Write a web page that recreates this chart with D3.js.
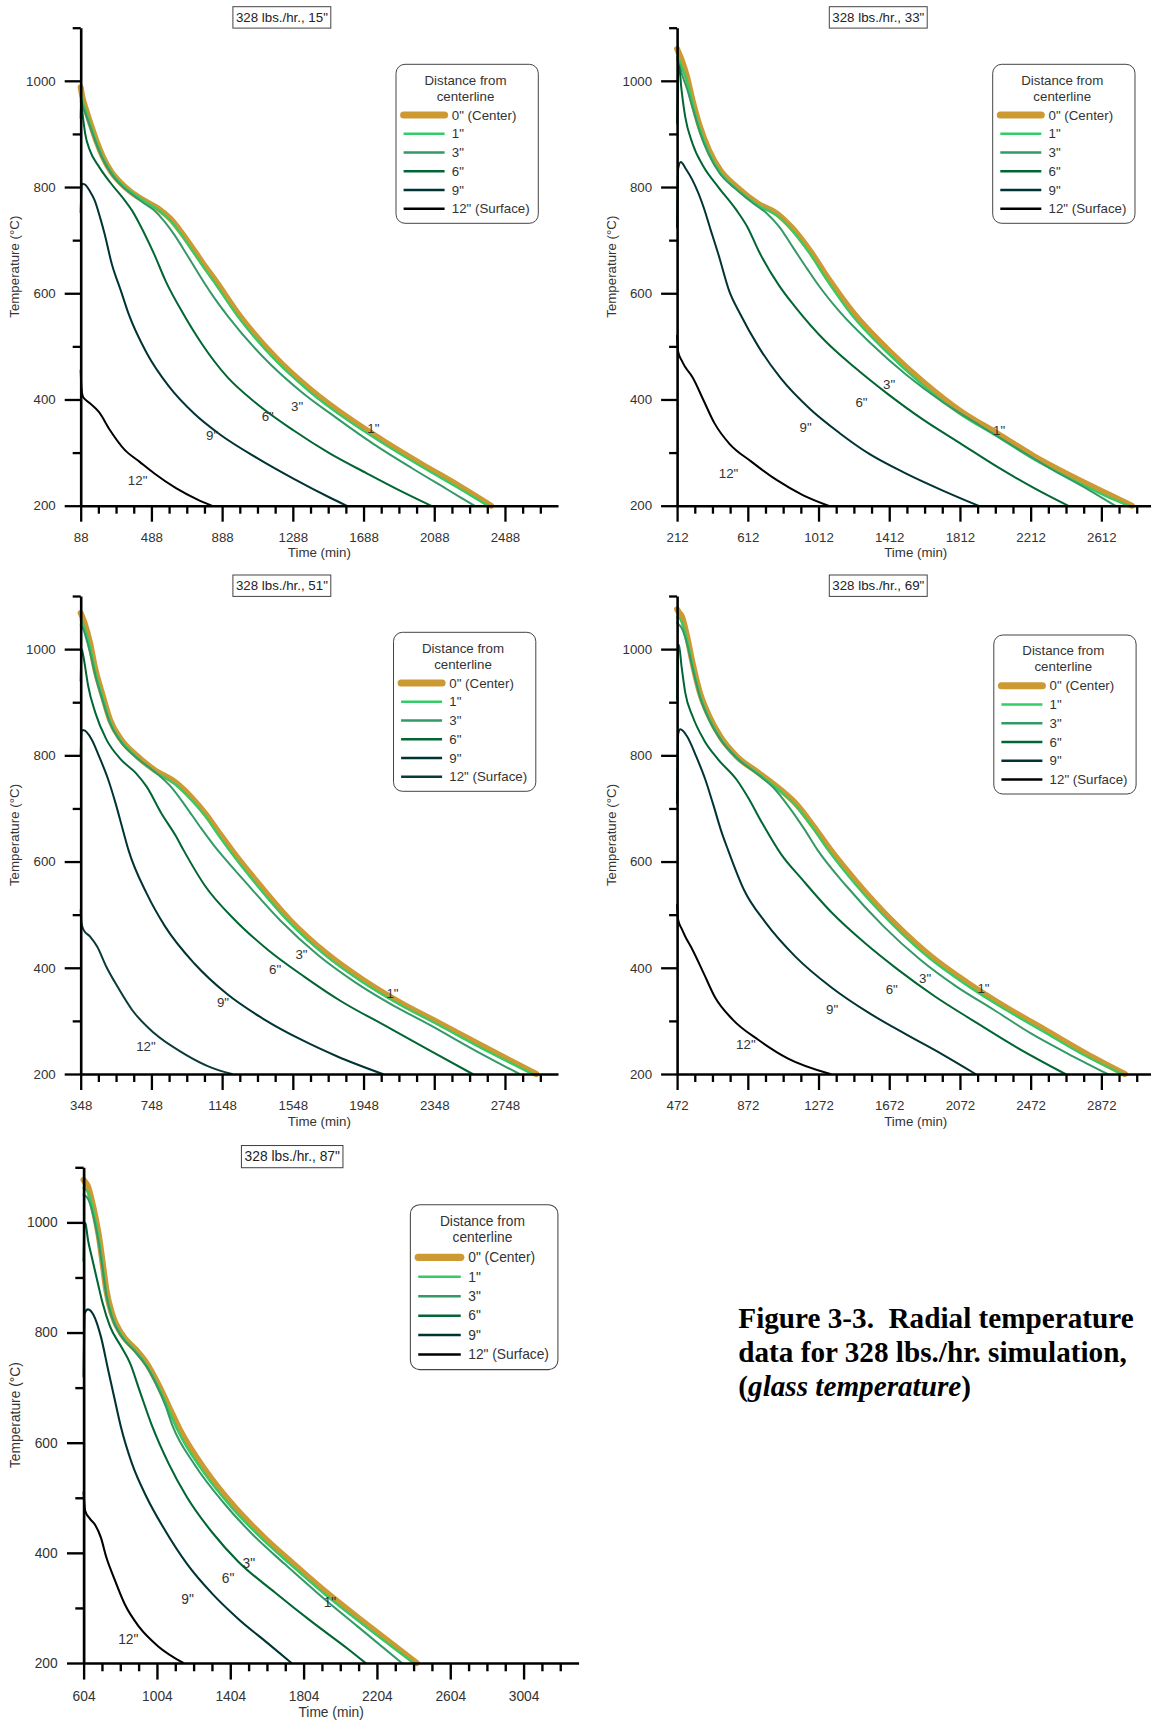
<!DOCTYPE html>
<html>
<head>
<meta charset="utf-8">
<script src="https://cdn.jsdelivr.net/npm/d3@7"></script>
<style>
  body { margin: 0; background: #fff; }
  svg { display: block; font-family: "Liberation Sans", Arial, sans-serif; }
</style>
</head>
<body>
<svg id="fig" width="1151" height="1720"></svg>
<script>
// ---------------- data ----------------
const panelTitles = ['328 lbs./hr., 15"', '328 lbs./hr., 33"', '328 lbs./hr., 51"', '328 lbs./hr., 69"', '328 lbs./hr., 87"'];
const timeStarts = [88, 212, 348, 472, 604];   // first labelled time tick of each run (min)
const timeSpan = 2700;                          // minutes shown on every time axis
const tempRange = [200, 1100];
const tempMajorTicks = [200, 400, 600, 800, 1000];
const tempMinorTicks = [300, 500, 700, 900, 1100];
const seriesNames = ['0" (Center)', '1"', '3"', '6"', '9"', '12" (Surface)'];
const curveTags = ['1"', '3"', '6"', '9"', '12"'];
const legendHeading = ['Distance from', 'centerline'];
const xAxisTitle = 'Time (min)';
const yAxisTitle = 'Temperature (°C)';

// [time (min), temperature (°C)] — run at 15"
const r15_0in = [[88,988],[96,972],[120,944],[150,913],[180,884],[212,858],[260,829],[320,806],[368,792],[450,774],[524,760],[596,740],[659,714],[731,680],[793,650],[850,624],[980,561],[1188,480],[1395,417],[1603,365],[1810,320],[2018,278],[2225,238],[2410,200]];
const r15_1in = [[88,975],[100,960],[130,930],[160,900],[190,873],[220,851],[270,824],[330,802],[380,789],[460,771],[530,756],[600,735],[660,709],[730,675],[790,646],[845,620],[975,557],[1180,477],[1385,414],[1593,362],[1800,317],[2008,275],[2215,235],[2392,200]];
const r15_3in = [[88,962],[100,952],[130,924],[160,896],[190,870],[220,848],[270,821],[330,799],[380,786],[440,771],[500,757],[560,736],[620,709],[690,672],[760,634],[830,598],[920,557],[1120,480],[1330,416],[1540,364],[1750,315],[1960,271],[2160,231],[2315,200]];
const r15_6in = [[88,930],[91,966],[98,940],[113,901],[140,869],[192,838],[254,809],[337,775],[378,756],[420,731],[503,674],[570,622],[669,561],[773,505],[918,442],[1084,392],[1291,342],[1499,298],[1706,261],[1914,225],[2069,200]];
const r15_9in = [[88,752],[94,806],[110,805],[140,792],[167,775],[200,740],[223,712],[264,655],[316,604],[358,562],[462,487],[586,425],[731,373],[876,334],[1084,290],[1291,251],[1499,215],[1592,200]];
const r15_12in = [[88,455],[92,422],[100,406],[113,400],[140,393],[192,376],[254,342],[337,305],[420,283],[503,261],[627,233],[752,211],[829,200]];
const r15_tags = [[1744,345],[1312,387],[1146,368],[831,333],[410,248]];

// run at 33"
const r33_0in = [[212,1060],[222,1052],[237,1040],[268,1008],[299,964],[341,914],[393,869],[455,832],[549,800],[673,768],[777,750],[860,724],[964,680],[1075,624],[1214,561],[1401,495],[1608,432],[1816,378],[2024,336],[2232,293],[2440,256],[2648,222],[2785,200]];
const r33_1in = [[212,1045],[225,1038],[240,1025],[268,1000],[299,958],[341,909],[393,864],[455,828],[549,796],[673,765],[777,746],[860,719],[964,674],[1065,622],[1205,557],[1392,491],[1598,428],[1806,374],[2014,332],[2222,289],[2430,252],[2638,218],[2768,200]];
const r33_3in = [[212,1040],[225,1030],[240,1012],[268,985],[299,950],[341,903],[393,860],[455,825],[549,795],[640,770],[720,750],[790,725],[870,685],[950,645],[1010,616],[1140,562],[1310,505],[1510,446],[1715,395],[1925,351],[2130,309],[2340,267],[2545,229],[2690,200]];
const r33_6in = [[212,920],[216,1000],[222,1030],[237,983],[258,932],[299,882],[362,838],[445,800],[549,756],[611,724],[673,680],[790,614],[881,574],[1047,511],[1214,461],[1401,411],[1608,361],[1816,317],[2024,273],[2232,233],[2423,200]];
const r33_9in = [[212,724],[218,835],[233,847],[260,835],[299,813],[362,762],[403,718],[445,674],[507,604],[569,561],[673,499],[798,440],[964,382],[1130,337],[1297,298],[1505,261],[1712,229],[1916,200]];
const r33_12in = [[212,520],[218,490],[237,474],[258,461],[299,442],[362,398],[424,355],[507,317],[632,283],[777,248],[923,220],[1068,200]];
const r33_tags = [[2034,341],[1411,428],[1255,395],[939,348],[503,261]];

// run at 51"
const r51_0in = [[348,1068],[358,1060],[369,1050],[400,1013],[431,962],[473,912],[514,867],[576,830],[659,801],[763,773],[888,748],[971,722],[1054,690],[1140,650],[1215,616],[1360,556],[1531,490],[1738,427],[1946,377],[2153,335],[2382,295],[2631,251],[2925,200]];
const r51_1in = [[348,1055],[358,1050],[369,1040],[400,1005],[431,957],[473,908],[514,863],[576,827],[659,798],[763,770],[888,744],[971,717],[1054,685],[1135,646],[1205,614],[1350,553],[1520,488],[1725,425],[1932,375],[2140,333],[2368,293],[2612,249],[2905,200]];
const r51_3in = [[348,1045],[360,1040],[375,1025],[400,995],[431,950],[473,902],[514,860],[576,825],[659,797],[763,770],[860,740],[940,705],[1020,667],[1100,631],[1160,607],[1305,552],[1480,488],[1690,424],[1895,374],[2100,332],[2325,292],[2570,246],[2830,200]];
const r51_6in = [[348,940],[353,1000],[360,992],[369,975],[390,931],[431,880],[493,830],[576,792],[659,767],[721,741],[804,691],[888,647],[929,622],[1054,553],[1220,490],[1406,434],[1614,383],[1821,337],[2070,291],[2319,245],[2565,200]];
const r51_9in = [[348,800],[353,847],[365,847],[410,830],[452,798],[504,754],[545,710],[587,659],[618,622],[721,540],[825,478],[991,408],[1178,350],[1385,303],[1593,265],[1800,233],[2056,200]];
const r51_12in = [[348,509],[352,485],[365,471],[400,459],[441,440],[493,402],[555,365],[638,321],[763,277],[929,239],[1095,211],[1203,200]];
const r51_tags = [[2112,351],[1597,426],[1448,397],[1153,334],[717,253]];

// run at 69"
const r69_0in = [[472,1075],[485,1068],[497,1063],[528,1025],[559,975],[601,918],[653,874],[715,836],[809,798],[933,767],[1058,735],[1141,710],[1245,666],[1340,622],[1494,559],[1702,484],[1910,421],[2118,371],[2325,327],[2554,283],[2783,239],[3005,200]];
const r69_1in = [[472,1060],[485,1058],[497,1052],[528,1018],[559,970],[601,914],[653,870],[715,833],[809,796],[933,765],[1058,732],[1141,706],[1245,661],[1330,620],[1480,557],[1688,482],[1895,419],[2102,369],[2310,325],[2538,281],[2765,237],[2990,200]];
const r69_3in = [[472,1050],[485,1045],[497,1040],[528,1010],[559,965],[601,910],[653,867],[715,831],[809,795],[933,763],[1020,738],[1100,705],[1190,662],[1266,622],[1432,553],[1640,478],[1848,415],[2055,364],[2263,321],[2471,277],[2679,239],[2907,200]];
const r69_6in = [[472,905],[476,990],[482,1008],[497,968],[518,918],[559,874],[622,830],[705,792],[809,754],[871,722],[954,672],[1060,614],[1183,565],[1349,503],[1536,446],[1723,396],[1931,346],[2139,302],[2388,251],[2668,200]];
const r69_9in = [[472,710],[478,840],[490,849],[528,836],[580,798],[632,754],[674,710],[726,653],[760,622],[850,547],[975,484],[1141,421],[1349,362],[1557,315],[1765,275],[1972,237],[2160,200]];
const r69_12in = [[472,518],[478,490],[497,474],[518,459],[559,434],[622,390],[684,346],[788,302],[933,264],[1100,229],[1339,200]];
const r69_tags = [[2205,361],[1875,380],[1686,359],[1349,321],[861,256]];

// run at 87"
const r87_0in = [[604,1077],[615,1072],[628,1065],[648,1040],[668,1010],[688,974],[708,926],[728,877],[758,835],[808,799],[888,769],[948,744],[1008,708],[1068,666],[1125,626],[1268,550],[1428,483],[1588,428],[1748,380],[1928,328],[2148,270],[2420,200]];
const r87_1in = [[604,1062],[615,1060],[628,1055],[648,1034],[668,1004],[688,968],[708,920],[728,872],[758,831],[808,796],[888,766],[948,740],[1008,704],[1068,661],[1115,624],[1255,548],[1415,481],[1575,426],[1735,378],[1915,326],[2135,268],[2405,200]];
const r87_3in = [[604,1050],[615,1048],[628,1043],[648,1024],[668,995],[688,960],[708,915],[728,868],[758,828],[808,794],[888,764],[948,738],[1000,706],[1050,668],[1090,630],[1210,560],[1370,490],[1530,432],[1700,380],[1890,324],[2100,266],[2340,200]];
const r87_6in = [[604,930],[608,1000],[614,998],[628,968],[648,938],[678,895],[708,853],[748,811],[808,775],[858,744],[908,696],[978,630],[1068,562],[1168,501],[1308,436],[1448,384],[1648,328],[1848,275],[2048,225],[2142,200]];
const r87_9in = [[604,720],[610,835],[628,842],[658,832],[698,793],[738,732],[778,672],[808,628],[868,562],[948,501],[1048,441],[1168,380],[1308,325],[1448,280],[1608,236],[1738,200]];
const r87_12in = [[604,510],[612,477],[638,462],[668,450],[698,428],[728,392],[768,356],[828,307],[908,265],[1008,231],[1148,200]];
const r87_tags = [[1948,310],[1505,382],[1392,354],[1171,316],[848,244]];

const seriesColors = ['#CC9933', '#33CC66', '#339966', '#006633', '#003333', '#000000'];
const seriesWidths = [6, 2.2, 2, 2, 2, 2];

const captionLines = ['Figure 3-3.  Radial temperature', 'data for 328 lbs./hr. simulation,'];
const captionLast = ['(', 'glass temperature', ')'];

// table of runs built from the arrays above
const runs = [
  { title: panelTitles[0], t0: timeStarts[0], series: [r15_0in, r15_1in, r15_3in, r15_6in, r15_9in, r15_12in], tags: r15_tags },
  { title: panelTitles[1], t0: timeStarts[1], series: [r33_0in, r33_1in, r33_3in, r33_6in, r33_9in, r33_12in], tags: r33_tags },
  { title: panelTitles[2], t0: timeStarts[2], series: [r51_0in, r51_1in, r51_3in, r51_6in, r51_9in, r51_12in], tags: r51_tags },
  { title: panelTitles[3], t0: timeStarts[3], series: [r69_0in, r69_1in, r69_3in, r69_6in, r69_9in, r69_12in], tags: r69_tags },
  { title: panelTitles[4], t0: timeStarts[4], series: [r87_0in, r87_1in, r87_3in, r87_6in, r87_9in, r87_12in], tags: r87_tags }
];

// ---------------- layout ----------------
const W = 477.3, H = 478;
const frames = [
  { x: 80.7,  y: 27.7,   k: 1,     legend: [315.3, 36.6] },
  { x: 677.1, y: 27.7,   k: 1,     legend: [315.6, 36.6] },
  { x: 80.7,  y: 596,    k: 1,     legend: [312.8, 36.3] },
  { x: 677.1, y: 596,    k: 1,     legend: [316.7, 39.0] },
  { x: 83.6,  y: 1167.3, k: 1.037, legend: [315.1, 36.1] }
];
const surfaceColor = ['#000000', '#000000', '#0b3a3a', '#000000', '#000000'];
const FS = 13.3;
const textGrey = '#333';

const svg = d3.select('#fig');

runs.forEach((run, i) => {
  const f = frames[i];
  const g = svg.append('g').attr('transform', `translate(${f.x},${f.y}) scale(${f.k})`);
  const x = d3.scaleLinear().domain([run.t0, run.t0 + timeSpan]).range([0, W]);
  const y = d3.scaleLinear().domain(tempRange).range([H, 0]);
  const colors = seriesColors.slice();
  colors[5] = surfaceColor[i];

  // curves: centre first, the others on top
  const line = d3.line().x(d => x(d[0])).y(d => y(d[1])).curve(d3.curveMonotoneX);
  run.series.forEach((pts, s) => {
    g.append('path')
      .attr('d', line(pts))
      .attr('fill', 'none')
      .attr('stroke', colors[s])
      .attr('stroke-width', seriesWidths[s])
      .attr('stroke-linecap', 'round')
      .attr('stroke-linejoin', 'round');
  });

  // inline curve tags
  g.append('g').selectAll('text').data(run.tags).join('text')
    .attr('x', d => x(d[0]))
    .attr('y', d => y(d[1]))
    .attr('dy', '0.35em')
    .attr('text-anchor', 'middle')
    .attr('font-size', FS)
    .attr('fill', textGrey)
    .text((d, j) => curveTags[j]);

  // time axis
  const majorT = d3.range(run.t0, run.t0 + timeSpan, 400);
  const minorT = d3.range(run.t0 + 100, run.t0 + timeSpan - 50, 100).filter(v => (v - run.t0) % 400 !== 0);
  const gxMinor = g.append('g').attr('transform', `translate(0,${H})`)
    .call(d3.axisBottom(x).tickValues(minorT).tickSize(8).tickSizeOuter(0).tickFormat(''));
  const gx = g.append('g').attr('transform', `translate(0,${H})`)
    .call(d3.axisBottom(x).tickValues(majorT).tickSize(16).tickSizeOuter(0).tickPadding(11).tickFormat(d3.format('d')));

  // temperature axis
  const gyMinor = g.append('g')
    .call(d3.axisLeft(y).tickValues(tempMinorTicks).tickSize(8).tickSizeOuter(0).tickFormat(''));
  const gy = g.append('g')
    .call(d3.axisLeft(y).tickValues(tempMajorTicks).tickSize(16).tickSizeOuter(0).tickPadding(9).tickFormat(d3.format('d')));

  [gxMinor, gx, gyMinor, gy].forEach(a => {
    a.select('.domain').attr('stroke', '#000').attr('stroke-width', 2.6);
    a.selectAll('.tick line').attr('stroke', '#000').attr('stroke-width', 2.3);
    a.selectAll('.tick text').attr('font-size', FS).attr('fill', textGrey)
      .attr('font-family', '"Liberation Sans", Arial, sans-serif');
  });
  gxMinor.select('.domain').remove();
  gyMinor.select('.domain').remove();

  // axis titles
  g.append('text')
    .attr('x', W / 2).attr('y', H + 47).attr('dy', '0.35em')
    .attr('text-anchor', 'middle').attr('font-size', FS).attr('fill', textGrey)
    .text(xAxisTitle);
  g.append('text')
    .attr('transform', `translate(-66,${H / 2}) rotate(-90)`)
    .attr('dy', '0.35em')
    .attr('text-anchor', 'middle').attr('font-size', FS).attr('fill', textGrey)
    .text(yAxisTitle);

  // run title box
  const tb = g.append('g').attr('transform', 'translate(152.2,-21)');
  tb.append('rect').attr('width', 97.9).attr('height', 21.4)
    .attr('fill', '#fff').attr('stroke', '#444').attr('stroke-width', 1);
  tb.append('text').attr('x', 49).attr('y', 10.7).attr('dy', '0.35em')
    .attr('text-anchor', 'middle').attr('font-size', FS).attr('fill', '#222')
    .text(run.title);

  // legend
  const lg = g.append('g').attr('transform', `translate(${f.legend[0]},${f.legend[1]})`);
  lg.append('rect').attr('width', 142.3).attr('height', 159).attr('rx', 9).attr('ry', 9)
    .attr('fill', '#fff').attr('stroke', '#444').attr('stroke-width', 1);
  legendHeading.forEach((h, j) => {
    lg.append('text').attr('x', 69.5).attr('y', 15.7 + j * 16).attr('dy', '0.35em')
      .attr('text-anchor', 'middle').attr('font-size', FS).attr('fill', textGrey).text(h);
  });
  seriesNames.forEach((name, s) => {
    const yy = 50.7 + s * 18.75;
    lg.append('line').attr('x1', 7.6).attr('x2', 48.6).attr('y1', yy).attr('y2', yy)
      .attr('stroke', colors[s])
      .attr('stroke-width', s === 0 ? 7 : 2.4)
      .attr('stroke-linecap', s === 0 ? 'round' : 'butt');
    lg.append('text').attr('x', 55.8).attr('y', yy).attr('dy', '0.35em')
      .attr('font-size', FS).attr('fill', textGrey).text(name);
  });
});

// figure caption
const cap = svg.append('text')
  .attr('x', 738.3).attr('y', 1328.3)
  .attr('xml:space', 'preserve')
  .style('white-space', 'pre')
  .attr('font-family', '"Liberation Serif", "Times New Roman", serif')
  .attr('font-weight', 'bold')
  .attr('font-size', 29.2)
  .attr('fill', '#000');
captionLines.forEach((t, j) => {
  cap.append('tspan').attr('x', 738.3).attr('y', 1328.3 + j * 33.7).text(t);
});
cap.append('tspan').attr('x', 738.3).attr('y', 1328.3 + 2 * 33.7).text(captionLast[0]);
cap.append('tspan').attr('font-style', 'italic').text(captionLast[1]);
cap.append('tspan').text(captionLast[2]);
</script>
</body>
</html>
